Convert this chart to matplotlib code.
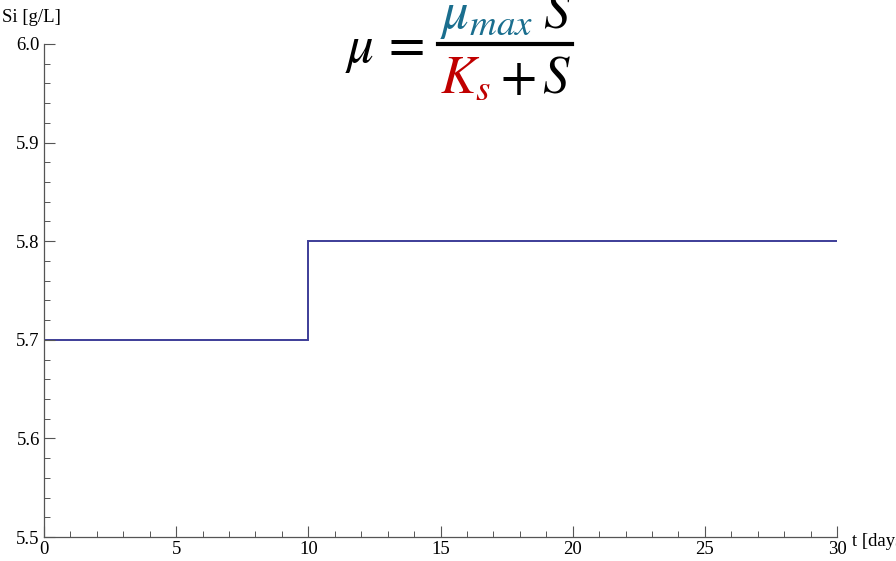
import numpy as np
import matplotlib.pyplot as plt
from matplotlib.lines import Line2D
from matplotlib.ticker import MultipleLocator

# step data
t_edges = [0, 10, 30]
si_values = [5.7, 5.8]

x_ticks = [0, 5, 10, 15, 20, 25, 30]
y_ticks = [5.5, 5.6, 5.7, 5.8, 5.9, 6.0]

plt.rcParams['font.family'] = ['Liberation Serif', 'DejaVu Serif']
plt.rcParams['mathtext.fontset'] = 'stix'

W, H = 896, 561
fig = plt.figure(figsize=(W / 100, H / 100), dpi=100)
ax = fig.add_axes([44 / W, 1 - 537 / H, (837 - 44) / W, (537 - 44) / H])

line_col = '#3d3d98'
ax.stairs(si_values, t_edges, color=line_col, lw=1.4, baseline=None)

ax.set_xlim(0, 30)
ax.set_ylim(5.5, 6.0)
ax.set_xticks(x_ticks)
ax.set_yticks(y_ticks)
ax.set_xticklabels([str(v) for v in x_ticks])
ax.set_yticklabels(['%.1f' % v for v in y_ticks])
ax.xaxis.set_minor_locator(MultipleLocator(1))
ax.yaxis.set_minor_locator(MultipleLocator(0.02))
for side in ['top', 'right']:
    ax.spines[side].set_visible(False)
for side in ['left', 'bottom']:
    ax.spines[side].set_color('#555555')
    ax.spines[side].set_linewidth(0.9)
ax.tick_params(which='major', direction='in', length=8, width=0.8, color='#555555',
               labelsize=13.5, pad=3)
ax.tick_params(which='minor', direction='in', length=4, width=0.7, color='#555555')

fig.text(2 / W, 1 - 22 / H, 'Si [g/L]', fontsize=13.5, ha='left', va='baseline')
fig.text(852 / W, 1 - 546 / H, 't [days]', fontsize=13.5, ha='left', va='baseline')

# formula overlay
fs = 38
fig.text(345 / W, 1 - 62 / H, r'$\mu\,=$', fontsize=fs, ha='left', va='baseline')
fig.add_artist(Line2D([438 / W, 572 / W], [1 - 44 / H, 1 - 44 / H],
                      transform=fig.transFigure, color='black', lw=3))
fig.text(440 / W, 1 - 28 / H, r'$\mu_{max}$', fontsize=fs, color='#1a6e8e',
         ha='left', va='baseline')
fig.text(543 / W, 1 - 28 / H, r'$S$', fontsize=fs, ha='left', va='baseline')
fig.text(440 / W, 1 - 93 / H, r'$K_s$', fontsize=fs, color='#c00000',
         ha='left', va='baseline')
fig.text(500 / W, 1 - 93 / H, r'$+\,S$', fontsize=fs, ha='left', va='baseline')

fig.savefig('out.png', dpi=100)
